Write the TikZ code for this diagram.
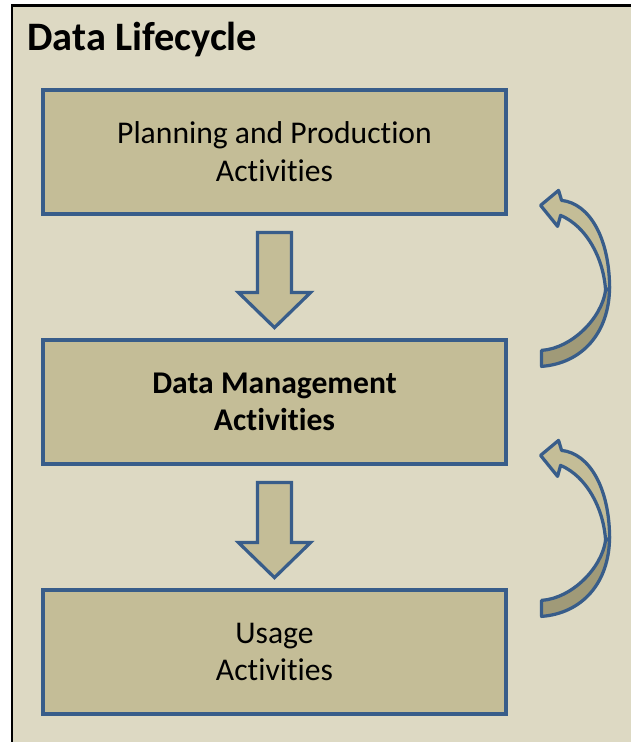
\documentclass[tikz,border=0pt]{standalone}
\usepackage{fontspec}
\setmainfont{Carlito}[Ligatures={NoCommon,NoContextual}]
\definecolor{bgtan}{HTML}{DDD9C3}
\definecolor{boxtan}{HTML}{C4BD97}
\definecolor{shadetan}{HTML}{A09A78}
\definecolor{edgeblue}{HTML}{385D8A}
\tikzset{frame/.style = {draw=black, fill=bgtan, line width=0.06cm},
         activity/.style = {draw=edgeblue, fill=boxtan, line width=0.065cm,
                            minimum width=9.26cm, minimum height=2.48cm,
                            align=center, font=\fontsize{18}{21.5}\selectfont},
         blockarrow/.style = {draw=edgeblue, fill=boxtan, line width=0.065cm, line join=miter},
         backarrow/.style = {draw=edgeblue, fill=boxtan, line width=0.065cm, line join=round},
         backshade/.style = {backarrow, fill=shadetan}}

\begin{document}
\begin{tikzpicture}[x=0.02cm, y=-0.02cm]
\useasboundingbox (0,0) rectangle (630,742);
\draw[frame] (12,6) rectangle (680,800);
\node[anchor=base west, inner sep=0pt, font=\fontsize{23}{27}\selectfont\bfseries] (title) at (27,51) {Data Lifecycle};
\node[activity] (plan) at (274.5,152) {Planning and Production\\Activities};
\node[activity, font=\fontsize{18}{21}\selectfont\bfseries] (manage) at (274.5,402) {Data Management\\Activities};
\node[activity] (usage) at (274.5,652) {Usage\\Activities};
\draw[blockarrow, shift={(plan.south)}] (-17,17) -- (17,17) -- (17,77) -- (36,77) -- (0,112) -- (-36,77) -- (-17,77) -- cycle;
\draw[blockarrow, shift={(manage.south)}] (-17,17) -- (17,17) -- (17,77) -- (36,77) -- (0,112) -- (-36,77) -- (-17,77) -- cycle;
\draw[backshade, shift={(manage.north east)}] (102,-52) .. controls (102,-5) and (74,25) .. (34,28) -- (34,12) .. controls (64,10) and (94,-20) .. (98,-48) -- cycle;
\draw[backarrow, shift={(manage.north east)}] (53,-123) -- (50,-112) -- (33,-133) -- (51,-148) -- (54,-138) .. controls (82,-135) and (102,-100) .. (102,-50) -- (98,-48) .. controls (96,-80) and (79,-112) .. (53,-123) -- cycle;
\draw[backshade, shift={(usage.north east)}] (102,-52) .. controls (102,-5) and (74,25) .. (34,28) -- (34,12) .. controls (64,10) and (94,-20) .. (98,-48) -- cycle;
\draw[backarrow, shift={(usage.north east)}] (53,-123) -- (50,-112) -- (33,-133) -- (51,-148) -- (54,-138) .. controls (82,-135) and (102,-100) .. (102,-50) -- (98,-48) .. controls (96,-80) and (79,-112) .. (53,-123) -- cycle;
\end{tikzpicture}
\end{document}
